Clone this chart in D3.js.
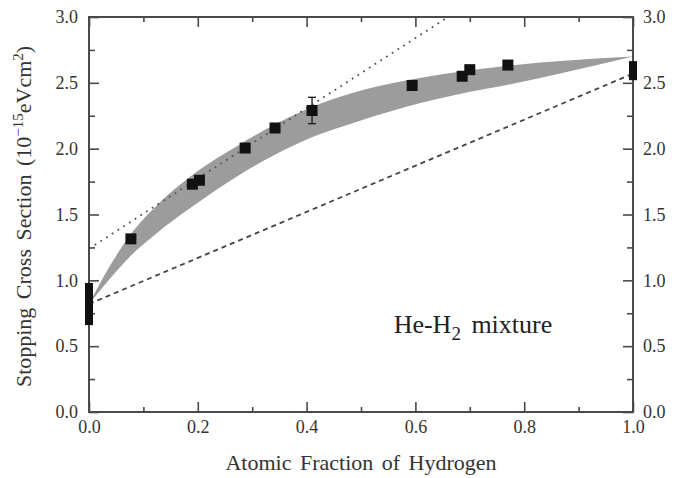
<!DOCTYPE html>
<html>
<head>
<meta charset="utf-8">
<script src="https://cdn.jsdelivr.net/npm/d3@7"></script>
<style>
  body { margin: 0; background: #fff; }
  text { font-family: "Liberation Serif", "DejaVu Serif", serif; fill: #333; }
</style>
</head>
<body>
<div id="viz_container"></div>
<script>
// measured points (x = atomic fraction of H, y = stopping cross section)
const ptX = [0.077, 0.19, 0.203, 0.287, 0.342, 0.41, 0.594, 0.686, 0.70, 0.77];
const ptY = [1.315, 1.73, 1.76, 2.005, 2.157, 2.29, 2.48, 2.55, 2.60, 2.635];
// error bar on the 0.41 point
const errX = [0.41];
const errLo = [2.19];
const errHi = [2.39];
// pure gas values drawn as tall bars on the axes
const endX = [0.0, 1.0];
const endLo = [0.66, 2.52];
const endHi = [0.98, 2.665];

// shaded band
const bandX = [0, 0.04, 0.075, 0.125, 0.19, 0.28, 0.34, 0.4, 0.49, 0.585, 0.675, 0.77, 0.88, 1.0];
const bandHi = [0.82, 1.12, 1.34, 1.57, 1.80, 2.04, 2.18, 2.30, 2.43, 2.52, 2.58, 2.63, 2.67, 2.70];
const bandLo = [0.82, 1.02, 1.18, 1.36, 1.56, 1.81, 1.95, 2.07, 2.20, 2.32, 2.41, 2.485, 2.585, 2.70];

// straight lines
const dotX = [0, 0.66];
const dotY = [1.24, 3.0];
const dashX = [0, 1.0];
const dashY = [0.82, 2.57];

const xTicks = [0, 0.2, 0.4, 0.6, 0.8, 1.0];
const yTicks = [0, 0.5, 1.0, 1.5, 2.0, 2.5, 3.0];

// set the dimensions and margins of the graph
const margin = {top: 17, right: 48, bottom: 66, left: 89};
const width = 681 - margin.left - margin.right;
const height = 478 - margin.top - margin.bottom;

const svg = d3.select("#viz_container")
  .append("svg")
    .attr("width", 681)
    .attr("height", 478)
  .append("g")
    .attr("transform", `translate(${margin.left},${margin.top})`);

const xScale = d3.scaleLinear().domain([0, 1]).range([0, width]);
const yScale = d3.scaleLinear().domain([0, 3]).range([height, 0]);

svg.append("clipPath").attr("id", "clip")
  .append("rect").attr("width", width).attr("height", height);

// band
const area = d3.area()
  .x((d, i) => xScale(bandX[i]))
  .y0((d, i) => yScale(bandLo[i]))
  .y1((d, i) => yScale(bandHi[i]))
  .curve(d3.curveMonotoneX);
svg.append("path")
  .attr("d", area(bandX))
  .style("fill", "#9c9c9c");

// dotted and dashed lines
const line = d3.line().x(d => xScale(d[0])).y(d => yScale(d[1]));
svg.append("path")
  .attr("d", line(dotX.map((x, i) => [x, dotY[i]])))
  .attr("clip-path", "url(#clip)")
  .style("fill", "none")
  .style("stroke", "#555")
  .style("stroke-width", 1.8)
  .style("stroke-dasharray", "1.8,5");
svg.append("path")
  .attr("d", line(dashX.map((x, i) => [x, dashY[i]])))
  .style("fill", "none")
  .style("stroke", "#444")
  .style("stroke-width", 1.8)
  .style("stroke-dasharray", "5,4");

// axes (ticks pointing inward on all four sides)
const axisColor = "#4a4a4a";
function styleAxis(g) {
  g.select(".domain").remove();
  g.selectAll("line").style("stroke", axisColor).style("stroke-width", 1.6);
  g.selectAll("text").style("font-size", "18px").style("fill", "#333");
}
const xMinor = d3.range(0.1, 1, 0.2);
const yMinor = d3.range(0.25, 3, 0.5);

svg.append("g").attr("transform", `translate(0,${height})`)
  .call(d3.axisBottom(xScale).tickValues(xTicks).tickFormat(d3.format(".1f")).tickSize(-10).tickPadding(8))
  .call(styleAxis);
svg.append("g").attr("transform", `translate(0,${height})`)
  .call(d3.axisBottom(xScale).tickValues(xMinor).tickFormat("").tickSize(-5))
  .call(styleAxis);
svg.append("g")
  .call(d3.axisTop(xScale).tickValues(xTicks).tickFormat("").tickSize(-10))
  .call(styleAxis);
svg.append("g")
  .call(d3.axisTop(xScale).tickValues(xMinor).tickFormat("").tickSize(-5))
  .call(styleAxis);
svg.append("g")
  .call(d3.axisLeft(yScale).tickValues(yTicks).tickFormat(d3.format(".1f")).tickSize(-10).tickPadding(11))
  .call(styleAxis);
svg.append("g")
  .call(d3.axisLeft(yScale).tickValues(yMinor).tickFormat("").tickSize(-6))
  .call(styleAxis);
svg.append("g").attr("transform", `translate(${width},0)`)
  .call(d3.axisRight(yScale).tickValues(yTicks).tickFormat(d3.format(".1f")).tickSize(-10).tickPadding(10))
  .call(styleAxis);
svg.append("g").attr("transform", `translate(${width},0)`)
  .call(d3.axisRight(yScale).tickValues(yMinor).tickFormat("").tickSize(-6))
  .call(styleAxis);

// frame
svg.append("rect")
  .attr("width", width)
  .attr("height", height)
  .style("fill", "none")
  .style("stroke", axisColor)
  .style("stroke-width", 2);

// error bar
errX.forEach((x, i) => {
  const g = svg.append("g").style("stroke", "#222").style("stroke-width", 1.4);
  g.append("line").attr("x1", xScale(x)).attr("x2", xScale(x))
    .attr("y1", yScale(errLo[i])).attr("y2", yScale(errHi[i]));
  [errLo[i], errHi[i]].forEach(v => {
    g.append("line").attr("x1", xScale(x) - 4).attr("x2", xScale(x) + 4)
      .attr("y1", yScale(v)).attr("y2", yScale(v));
  });
});

// data squares
const sq = 11;
svg.selectAll("rect.pt")
  .data(ptX)
  .join("rect")
    .attr("class", "pt")
    .attr("x", (d) => xScale(d) - sq / 2)
    .attr("y", (d, i) => yScale(ptY[i]) - sq / 2)
    .attr("width", sq)
    .attr("height", sq)
    .style("fill", "#111");

// pure gas bars
svg.selectAll("rect.end")
  .data(endX)
  .join("rect")
    .attr("class", "end")
    .attr("x", d => xScale(d) - 4)
    .attr("y", (d, i) => yScale(endHi[i]))
    .attr("width", 8)
    .attr("height", (d, i) => yScale(endLo[i]) - yScale(endHi[i]))
    .style("fill", "#111");

// label inside plot
const lab = svg.append("text")
  .attr("x", xScale(0.56))
  .attr("y", yScale(0.6))
  .style("font-size", "26px")
  .style("word-spacing", "4px")
  .style("fill", "#222");
lab.append("tspan").text("He-H");
lab.append("tspan").attr("dy", 7).style("font-size", "19px").text("2");
lab.append("tspan").attr("dy", -7).text(" mixture");

// X axis label
svg.append("text")
  .attr("x", width / 2)
  .attr("y", height + 58)
  .attr("text-anchor", "middle")
  .style("font-size", "22px")
  .style("word-spacing", "3px")
  .text("Atomic Fraction of Hydrogen");

// Y axis label
const yl = svg.append("text")
  .attr("transform", `translate(${-margin.left + 31},${height / 2 + 2}) rotate(-90)`)
  .attr("text-anchor", "middle")
  .style("font-size", "22px")
  .style("word-spacing", "3px");
yl.append("tspan").text("Stopping Cross Section  (10");
yl.append("tspan").attr("dy", -8).style("font-size", "15px").text("\u221215");
yl.append("tspan").attr("dy", 8).text("eVcm");
yl.append("tspan").attr("dy", -8).style("font-size", "15px").text("2");
yl.append("tspan").attr("dy", 8).text(")");
</script>
</body>
</html>
